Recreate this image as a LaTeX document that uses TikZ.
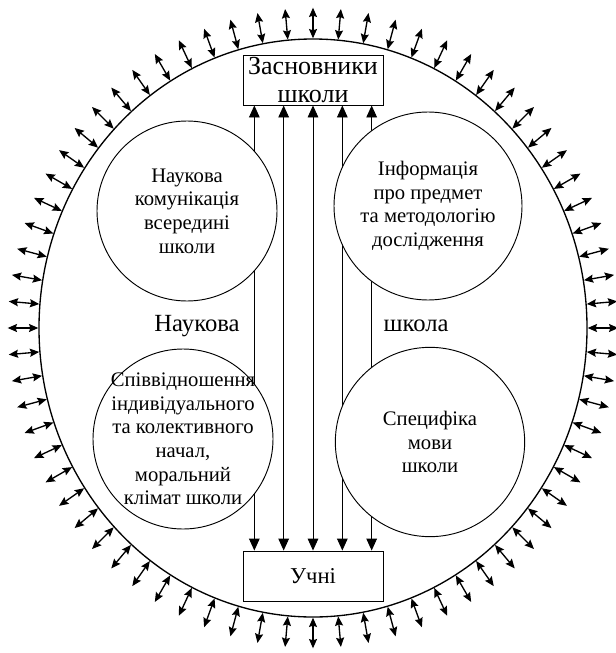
\documentclass[tikz,border=0pt]{standalone}
\usepackage{fontspec}
\setmainfont{Liberation Serif}
\usetikzlibrary{shapes.geometric, arrows.meta, positioning, calc}

\begin{document}
\begin{tikzpicture}[
        x=0.75pt, y=-0.75pt,
        box/.style={draw, line width=0.7pt, minimum width=105pt, minimum height=37.5pt, inner sep=0pt, align=center},
        disc/.style={circle, draw, fill=white, line width=0.7pt, inner sep=0pt, align=center, font=\fontsize{15.5}{17.7}\selectfont},
        flow/.style={line width=0.7pt, {Triangle[length=9pt,width=8pt]}-{Triangle[length=9pt,width=8pt]}},
        ray/.style={line width=1pt, {Stealth[length=7pt,width=6pt,inset=1pt]}-{Stealth[length=7pt,width=6pt,inset=1pt]}},
        word/.style={anchor=base, font=\fontsize{18.5}{20}\selectfont}
    ]
        \useasboundingbox (0,0) rectangle (616,653);
        % Outer rim
        \node[ellipse, draw, line width=1pt, minimum width=411pt, minimum height=433.5pt] (rim) at (313,328) {};
        \foreach \a in {0,5,...,355} {
            \coordinate (in\a) at (rim.\a);
            \coordinate (out\a) at ($(rim.\a)!-23pt!(rim.center)$);
            \draw[ray] (in\a) -- (out\a);
        }

        % Boxes
        \node[box, font=\fontsize{19.5}{20.3}\selectfont] (found) at (313,80) {Засновники\\школи};
        \node[box, font=\fontsize{17}{20}\selectfont] (pupils) at (313,576) {Учні};

        % Vertical connections
        \foreach \dx in {-44,-22,0,22,44} {
            \draw[flow] ([xshift=\dx pt]found.south) -- ([xshift=\dx pt]pupils.north);
        }

        % Circles
        \node[disc, minimum size=135pt] (talk) at (187,211) {Наукова\\комунікація\\всередині\\школи};
        \node[disc, minimum size=141pt] (info) at (428,206) {Інформація\\про предмет\\та методологію\\дослідження};
        \node[disc, minimum size=135pt, inner sep=-14pt] (climate) at (183,439) {Співвідношення\\індивідуального\\та колективного\\начал,\\моральний\\клімат школи};
        \node[disc, minimum size=142pt] (lang) at (430,442) {Специфіка\\мови\\школи};

        \node[word] (sci) at (197,331) {Наукова};
        \node[word] (school) at (416,331) {школа};
    \end{tikzpicture}
\end{document}
